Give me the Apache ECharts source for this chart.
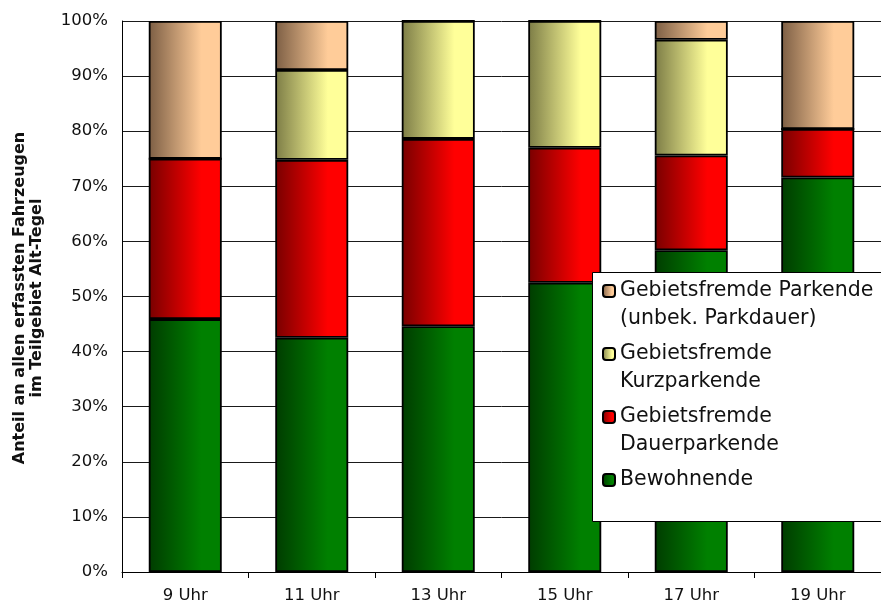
<!DOCTYPE html>
<html>
<head>
<meta charset="utf-8">
<script src="https://cdn.jsdelivr.net/npm/echarts@6/dist/echarts.min.js"></script>
<style>
  html, body { margin: 0; padding: 0; background: #fff; }
  #chart { width: 881px; height: 604px; }
</style>
</head>
<body>
<div id="chart"></div>
<script>
// Parkierende Fahrzeuge im Teilgebiet Alt-Tegel, Anteile je Erhebungszeitpunkt (%)
const categories = ['9 Uhr', '11 Uhr', '13 Uhr', '15 Uhr', '17 Uhr', '19 Uhr'];
const bewohnende = [45.9, 42.5, 44.6, 52.5, 58.4, 71.6];
const dauerparkende = [29.1, 32.3, 34.0, 24.5, 17.2, 8.8];
const kurzparkende = [0, 16.3, 21.4, 23.0, 21.0, 0];
const unbekannt = [25.0, 8.9, 0, 0, 3.4, 19.6];

const seriesNames = [
  'Bewohnende',
  'Gebietsfremde\nDauerparkende',
  'Gebietsfremde\nKurzparkende',
  'Gebietsfremde Parkende\n(unbek. Parkdauer)'
];
const yTickLabels = ['0%', '10%', '20%', '30%', '40%', '50%', '60%', '70%', '80%', '90%', '100%'];
const yTitle = 'Anteil an allen erfassten Fahrzeugen\nim Teilgebiet Alt-Tegel';

// horizontal shading: dark on the left, full colour towards the right
function shade(dark, bright) {
  return new echarts.graphic.LinearGradient(0, 0, 1, 0, [
    { offset: 0, color: dark },
    { offset: 0.72, color: bright },
    { offset: 1, color: bright }
  ]);
}
const fills = [
  shade('#003c00', '#008000'),
  shade('#780000', '#ff0000'),
  shade('#7c7c46', '#ffff99'),
  shade('#7c5e44', '#ffcc99')
];

const values = [bewohnende, dauerparkende, kurzparkende, unbekannt];

const chart = echarts.init(document.getElementById('chart'), null, { renderer: 'canvas' });

// Legend entries are laid out as three text lines with the first label line
// in the middle, so the marker sits beside the first line of each entry.
function legendText(name) {
  return name.indexOf('\n') >= 0 ? '\n' + name : '\n' + name + '\n';
}

chart.setOption({
  animation: false,
  backgroundColor: '#ffffff',
  grid: { left: 122, right: -7, top: 21, bottom: 32, containLabel: false },
  xAxis: {
    type: 'category',
    data: categories,
    axisLine: { show: true, lineStyle: { color: '#000', width: 1 } },
    axisTick: { show: true, length: 6, lineStyle: { color: '#000' } },
    axisLabel: {
      color: '#111', fontFamily: 'DejaVu Sans', fontSize: 16.5, margin: 15
    },
    splitLine: { show: false }
  },
  yAxis: {
    type: 'value',
    min: 0, max: 100, interval: 10,
    axisLine: { show: true, lineStyle: { color: '#000', width: 1 } },
    axisTick: { show: false },
    axisLabel: {
      color: '#111', fontFamily: 'DejaVu Sans', fontSize: 16.5, margin: 14,
      formatter: function (v) { return yTickLabels[Math.round(v / 10)]; }
    },
    splitLine: { show: true, lineStyle: { color: '#1a1a1a', width: 1 } }
  },
  legend: {
    orient: 'vertical',
    left: 602,
    top: 249,
    padding: 0,
    itemWidth: 12,
    itemHeight: 12,
    itemGap: -21,
    selectedMode: false,
    z: 6,
    formatter: legendText,
    textStyle: {
      fontFamily: 'DejaVu Sans', fontSize: 20.5, color: '#111', lineHeight: 28
    },
    data: [seriesNames[3], seriesNames[2], seriesNames[1], seriesNames[0]]
  },
  graphic: [
    {
      type: 'rect',
      z: 5,
      shape: { x: 592.5, y: 272.5, width: 320, height: 249 },
      style: { fill: '#ffffff', stroke: '#000', lineWidth: 1 }
    },
    {
      type: 'text',
      x: 28, y: 298,
      rotation: Math.PI / 2,
      style: {
        text: yTitle,
        fontFamily: 'DejaVu Sans', fontWeight: 'bold', fontSize: 16,
        lineHeight: 17,
        fill: '#111', align: 'center', verticalAlign: 'middle'
      }
    }
  ],
  series: values.map(function (arr, i) {
    return {
      name: seriesNames[i],
      type: 'bar',
      stack: 'anteil',
      barWidth: 73,
      data: arr,
      itemStyle: { color: fills[i], borderColor: '#000', borderWidth: 1.8 },
      emphasis: { disabled: true }
    };
  })
});
</script>
</body>
</html>
